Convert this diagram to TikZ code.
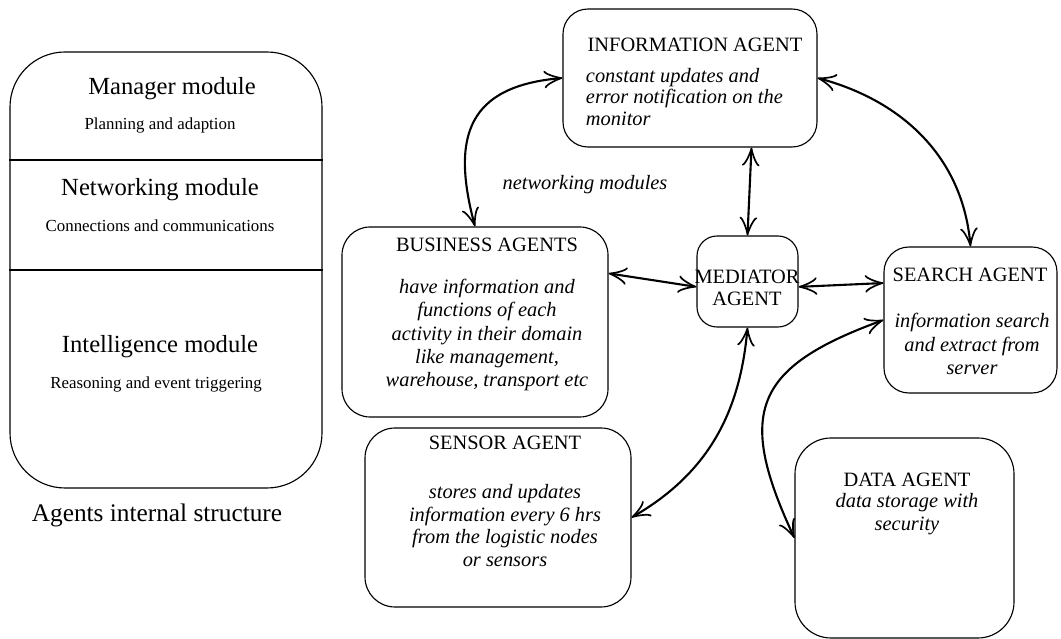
\documentclass[tikz,border=0pt]{standalone}
\usepackage{fontspec}
\setmainfont{Liberation Serif}
\usetikzlibrary{arrows.meta,calc}

\newcommand{\px}{0.025cm}

\begin{document}
\begin{tikzpicture}[x=\px,y=\px,
    agent/.style={draw,line width=0.8pt,inner sep=0pt},
    link/.style={line width=1.5pt,
      {Classical TikZ Rightarrow[length=4.6mm,width=4.4mm]}-{Classical TikZ Rightarrow[length=4.6mm,width=4.4mm]}},
    title/.style={font=\fontsize{14.5}{16}\selectfont},
    desc/.style={font=\fontsize{14.5}{16.5}\selectfont\itshape,align=center},
    modname/.style={font=\fontsize{17.5}{20}\selectfont},
    modtext/.style={font=\fontsize{12}{14}\selectfont}]
    \useasboundingbox (0,0) rectangle (1061,639);

    % Agent internal structure (left)
    \node[agent,rounded corners=55*\px,minimum width=312*\px,minimum height=436*\px] (structure) at (166,369) {};
    \draw[line width=1.5pt] (structure.west |- 0,479) -- (structure.east |- 0,479);
    \draw[line width=1.5pt] (structure.west |- 0,369) -- (structure.east |- 0,369);
    \node[modname] (manager) at (172,550) {Manager module};
    \node[modtext] (planning) at (160,514) {Planning and adaption};
    \node[modname] (networking) at (160,449) {Networking module};
    \node[modtext] (connections) at (160,413) {Connections and communications};
    \node[modname] (intelligence) at (160,292) {Intelligence module};
    \node[modtext] (reasoning) at (156,255) {Reasoning and event triggering};
    \node[font=\fontsize{18}{20}\selectfont] (caption) at (157,124) {Agents internal structure};

    % Agents
    \node[agent,rounded corners=25*\px,minimum width=254*\px,minimum height=138*\px] (info) at (690,561) {};
    \node[title] (infotitle) at (695,594) {INFORMATION AGENT};
    \node[desc,align=left,anchor=west,font=\fontsize{14.5}{15}\selectfont\itshape] (infotext) at (581,542)
      {constant updates and\\ error notification on the\\ monitor};

    \node[agent,rounded corners=28*\px,minimum width=266*\px,minimum height=190*\px] (biz) at (475,317) {};
    \node[title] (biztitle) at (487,394) {BUSINESS AGENTS};
    \node[desc,font=\fontsize{14.5}{16.7}\selectfont\itshape] (biztext) at (487,304)
      {have information and\\ functions of each\\ activity in their domain\\ like management,\\ warehouse, transport etc};

    \node[agent,rounded corners=20*\px,minimum width=101*\px,minimum height=91*\px] (med) at (747.5,357.5) {};
    \node[title,align=center,font=\fontsize{14.5}{15.6}\selectfont] (medtext) at (747,351) {MEDIATOR\\AGENT};

    \node[agent,rounded corners=25*\px,minimum width=173*\px,minimum height=146*\px] (search) at (970.5,319) {};
    \node[title] (searchtitle) at (970,364) {SEARCH AGENT};
    \node[desc] (searchtext) at (972,295)
      {information search\\ and extract from\\ server};

    \node[agent,rounded corners=30*\px,minimum width=266*\px,minimum height=179*\px] (sensor) at (498,121.5) {};
    \node[title] (sensortitle) at (505,196) {SENSOR AGENT};
    \node[desc,font=\fontsize{14.5}{15.9}\selectfont\itshape] (sensortext) at (505,113.5)
      {stores and updates\\ information every 6 hrs\\ from the logistic nodes\\ or sensors};

    \node[agent,rounded corners=36*\px,minimum width=219*\px,minimum height=200*\px] (data) at (904.5,101) {};
    \node[title] (datatitle) at (907,159) {DATA AGENT};
    \node[desc] (datatext) at (907,124.5) {data storage with\\ security};

    \node[desc] (netlabel) at (585,454) {networking modules};

    % Connections
    \draw[link] (info.west) to[out=185,in=105,looseness=1.4] (biz.north);
    \draw[link] (info.east) to[out=-15,in=95] (search.north);
    \draw[link] ($(info.south -| med.north)+(4,0)$) -- (med.north);
    \draw[link] (biz.20) -- (med.186);
    \draw[link] (med.-6) -- (search.157);
    \draw[link] (med.south) to[out=-95,in=30] (sensor.east);
    \draw[link] (search.west) to[out=200,in=115,looseness=1.5] (data.west);

\end{tikzpicture}
\end{document}
